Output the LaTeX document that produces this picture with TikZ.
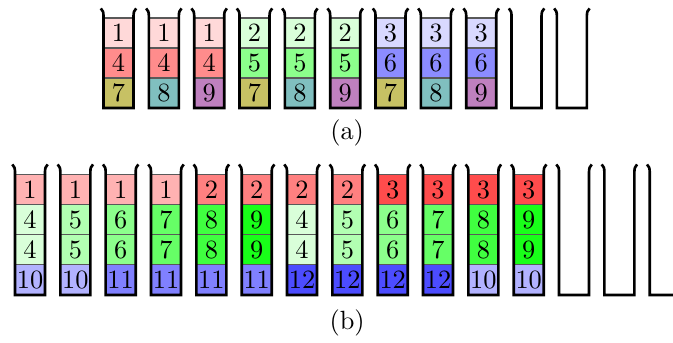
\documentclass[tikz,border=0pt]{standalone}
\usepackage{xcolor}
\usepackage{tikz}
\usetikzlibrary{positioning}

\begin{document}
\begin{tikzpicture}[
    x=0.4cm, y=0.4cm,
    node distance=0pt,
    cell/.style={draw=black!65, line width=0.4pt, inner sep=0pt, outer sep=0pt,
                 minimum width=0.4cm, minimum height=0.4cm},
    cup/.style={line width=1pt, line join=miter},
]
    \useasboundingbox (0,0) rectangle (22.43,11.4);

    % (a): three items per cup
    \foreach \ta/\ca/\tb/\cb/\tc/\cc [count=\i from 0] in {
        1/red!15/4/red!45/7/olive!50, 1/red!15/4/red!45/8/teal!50,
        1/red!15/4/red!45/9/violet!50, 2/green!15/5/green!45/7/olive!50,
        2/green!15/5/green!45/8/teal!50, 2/green!15/5/green!45/9/violet!50,
        3/blue!15/6/blue!45/7/olive!50, 3/blue!15/6/blue!45/8/teal!50,
        3/blue!15/6/blue!45/9/violet!50}
    {
        \node[cell, fill=\cc, anchor=south west] (a-\i-3) at ({3.45+1.511*\i}, 7.8) {\tc};
        \node[cell, fill=\cb, above=of a-\i-3] (a-\i-2) {\tb};
        \node[cell, fill=\ca, above=of a-\i-2] (a-\i-1) {\ta};
    }
    \foreach \i [evaluate=\i as \x using 3.45+1.511*\i] in {0,...,10}
        \draw[cup] ({\x-0.09}, 11.12) .. controls ({\x-0.01}, 11.02) .. (\x, 10.88)
            -- (\x, 7.8) -- ({\x+1}, 7.8) -- ({\x+1}, 10.88)
            .. controls ({\x+1.01}, 11.02) .. ({\x+1.09}, 11.12);
    \node (capa) at (11.57, 6.97) {(a)};

    % (b): four items per cup
    \foreach \ta/\ca/\tb/\cb/\tc/\cc [count=\i from 0] in {
        1/red!30/4/green!15/10/blue!30, 1/red!30/5/green!30/10/blue!30,
        1/red!30/6/green!45/11/blue!50, 1/red!30/7/green!60/11/blue!50,
        2/red!50/8/green!75/11/blue!50, 2/red!50/9/green!90/11/blue!50,
        2/red!50/4/green!15/12/blue!70, 2/red!50/5/green!30/12/blue!70,
        3/red!70/6/green!45/12/blue!70, 3/red!70/7/green!60/12/blue!70,
        3/red!70/8/green!75/10/blue!30, 3/red!70/9/green!90/10/blue!30}
    {
        \node[cell, fill=\cc, anchor=south west] (b-\i-4) at ({0.5+1.511*\i}, 1.57) {\tc};
        \node[cell, fill=\cb, above=of b-\i-4] (b-\i-3) {\tb};
        \node[cell, fill=\cb, above=of b-\i-3] (b-\i-2) {\tb};
        \node[cell, fill=\ca, above=of b-\i-2] (b-\i-1) {\ta};
    }
    \foreach \i [evaluate=\i as \x using 0.5+1.511*\i] in {0,...,14}
        \draw[cup] ({\x-0.09}, 5.92) .. controls ({\x-0.01}, 5.82) .. (\x, 5.68)
            -- (\x, 1.57) -- ({\x+1}, 1.57) -- ({\x+1}, 5.68)
            .. controls ({\x+1.01}, 5.82) .. ({\x+1.09}, 5.92);
    \node (capb) at (11.57, 0.63) {(b)};
\end{tikzpicture}
\end{document}
